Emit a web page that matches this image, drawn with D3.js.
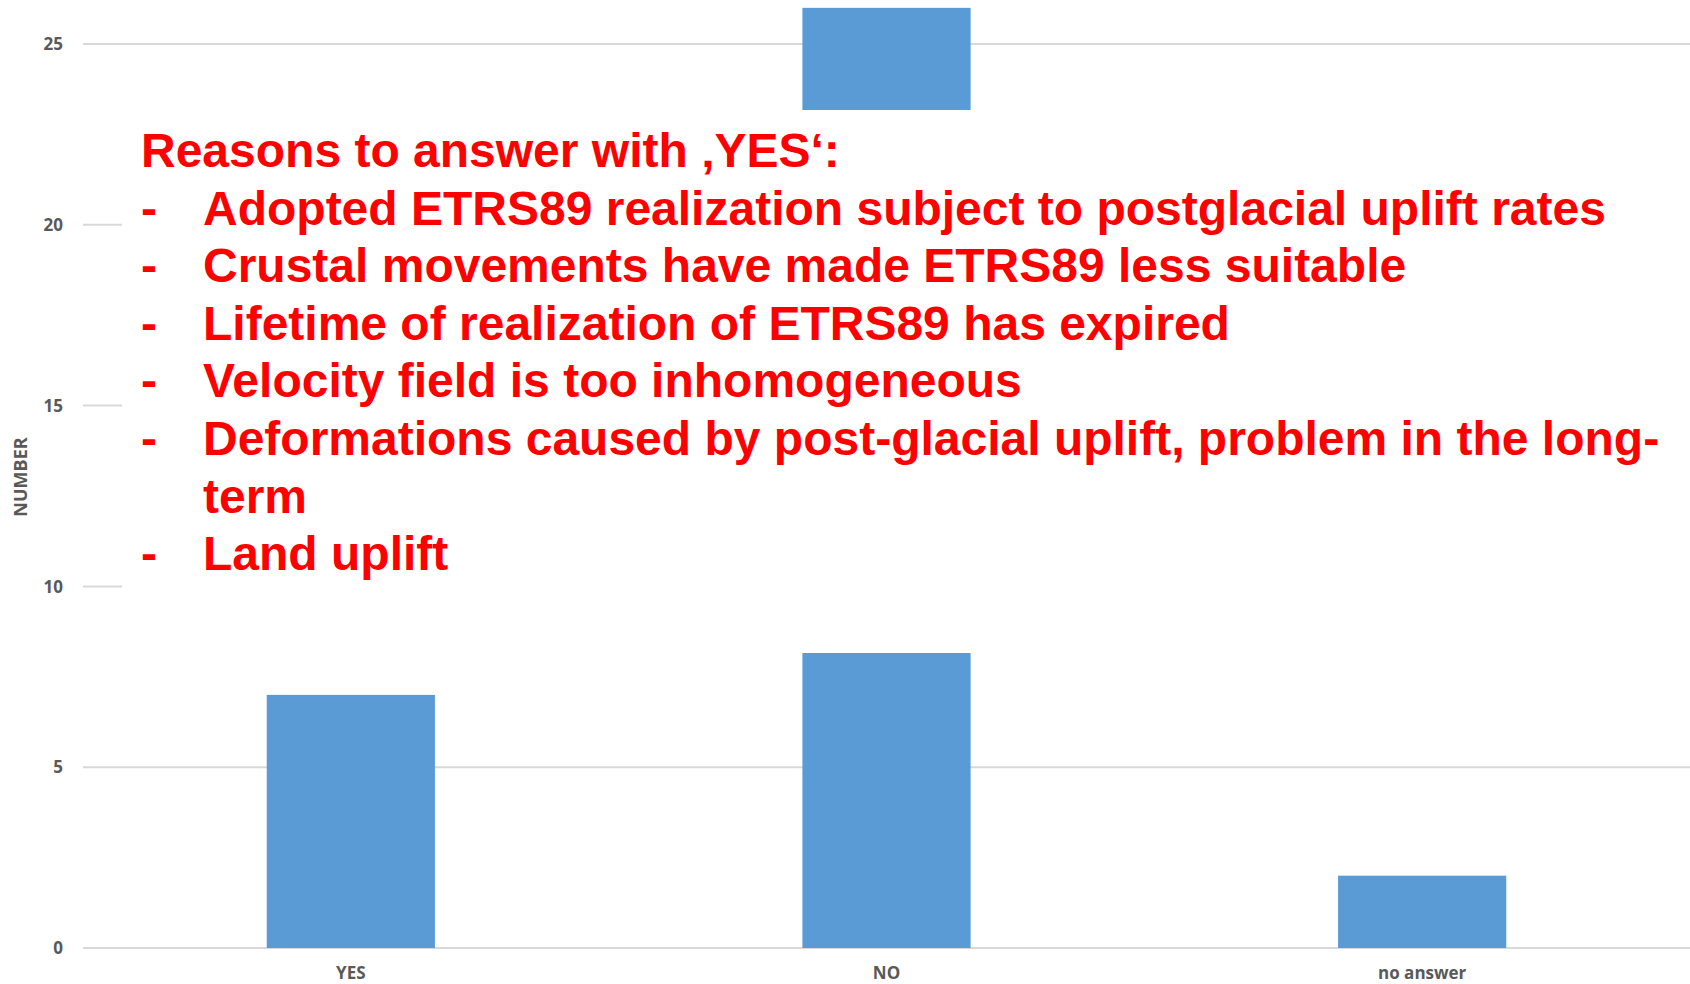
<!DOCTYPE html>
<html>
<head>
<meta charset="utf-8">
<script src="https://cdn.jsdelivr.net/npm/d3@7"></script>
<style>
  html, body { margin: 0; padding: 0; background: #fff; }
  svg { display: block; }
</style>
</head>
<body>
<svg id="chart"></svg>
<script>
// chart data
const categories = ['YES', 'NO', 'no answer'];
const counts = [7, 26, 2];
const yTicks = [0, 5, 10, 15, 20, 25];
const axisTitle = 'NUMBER';

// the overlaid text box
const reasonsTitle = 'Reasons to answer with \u201AYES\u2018:';
const reasons = [
  ['Adopted ETRS89 realization subject to postglacial uplift rates'],
  ['Crustal movements have made ETRS89 less suitable'],
  ['Lifetime of realization of ETRS89 has expired'],
  ['Velocity field is too inhomogeneous'],
  ['Deformations caused by post-glacial uplift, problem in the long-', 'term'],
  ['Land uplift']
];

const W = 1690, H = 984;
const margin = {top: 0, right: 0, bottom: 36, left: 83};

const svg = d3.select('#chart')
  .attr('width', W)
  .attr('height', H);

const x = d3.scaleBand()
  .domain(categories)
  .range([margin.left, W - margin.right])
  .paddingInner(0.686)
  .paddingOuter(0.343);

const y = d3.scaleLinear()
  .domain([0, 25])
  .range([948, 44]);

// gridlines
svg.append('g')
  .selectAll('line')
  .data(yTicks)
  .enter().append('line')
  .attr('x1', margin.left)
  .attr('x2', W)
  .attr('y1', d => y(d))
  .attr('y2', d => y(d))
  .attr('stroke', '#d9d9d9')
  .attr('stroke-width', 2);

// y tick labels
svg.append('g')
  .selectAll('text')
  .data(yTicks)
  .enter().append('text')
  .attr('x', 63)
  .attr('y', d => y(d))
  .attr('dy', '0.36em')
  .attr('text-anchor', 'end')
  .attr('font-family', '"Open Sans", sans-serif')
  .attr('font-weight', 700)
  .attr('font-size', 17)
  .attr('fill', '#595959')
  .text(d => d);

// axis title
svg.append('text')
  .attr('transform', 'translate(27,477) rotate(-90)')
  .attr('text-anchor', 'middle')
  .attr('font-family', '"Open Sans", sans-serif')
  .attr('font-weight', 700)
  .attr('font-size', 18)
  .attr('fill', '#595959')
  .text(axisTitle);

// bars
svg.append('g')
  .selectAll('rect')
  .data(counts)
  .enter().append('rect')
  .attr('x', (d, i) => x(categories[i]))
  .attr('width', x.bandwidth())
  .attr('y', d => y(d))
  .attr('height', d => y(0) - y(d))
  .attr('fill', '#5b9bd5');

// category labels
svg.append('g')
  .selectAll('text')
  .data(categories)
  .enter().append('text')
  .attr('x', d => x(d) + x.bandwidth() / 2)
  .attr('y', 979)
  .attr('text-anchor', 'middle')
  .attr('font-family', '"Open Sans", sans-serif')
  .attr('font-weight', 700)
  .attr('font-size', 17)
  .attr('fill', '#595959')
  .text(d => d);

// white box that covers the middle of the chart
svg.append('rect')
  .attr('x', 122)
  .attr('y', 110)
  .attr('width', W - 122)
  .attr('height', 653 - 110)
  .attr('fill', '#fff');

const box = svg.append('g')
  .attr('font-family', '"Liberation Sans", Arial, sans-serif')
  .attr('font-weight', 700)
  .attr('font-size', 48)
  .attr('fill', '#ff0000');

const lineH = 57.6;
let baseY = 167;

box.append('text')
  .attr('x', 141)
  .attr('y', baseY)
  .text(reasonsTitle);

let row = 1;
reasons.forEach(function(item) {
  box.append('text')
    .attr('x', 141)
    .attr('y', baseY + row * lineH)
    .text('-');
  item.forEach(function(part) {
    box.append('text')
      .attr('x', 203)
      .attr('y', baseY + row * lineH)
      .text(part);
    row++;
  });
});
</script>
</body>
</html>
